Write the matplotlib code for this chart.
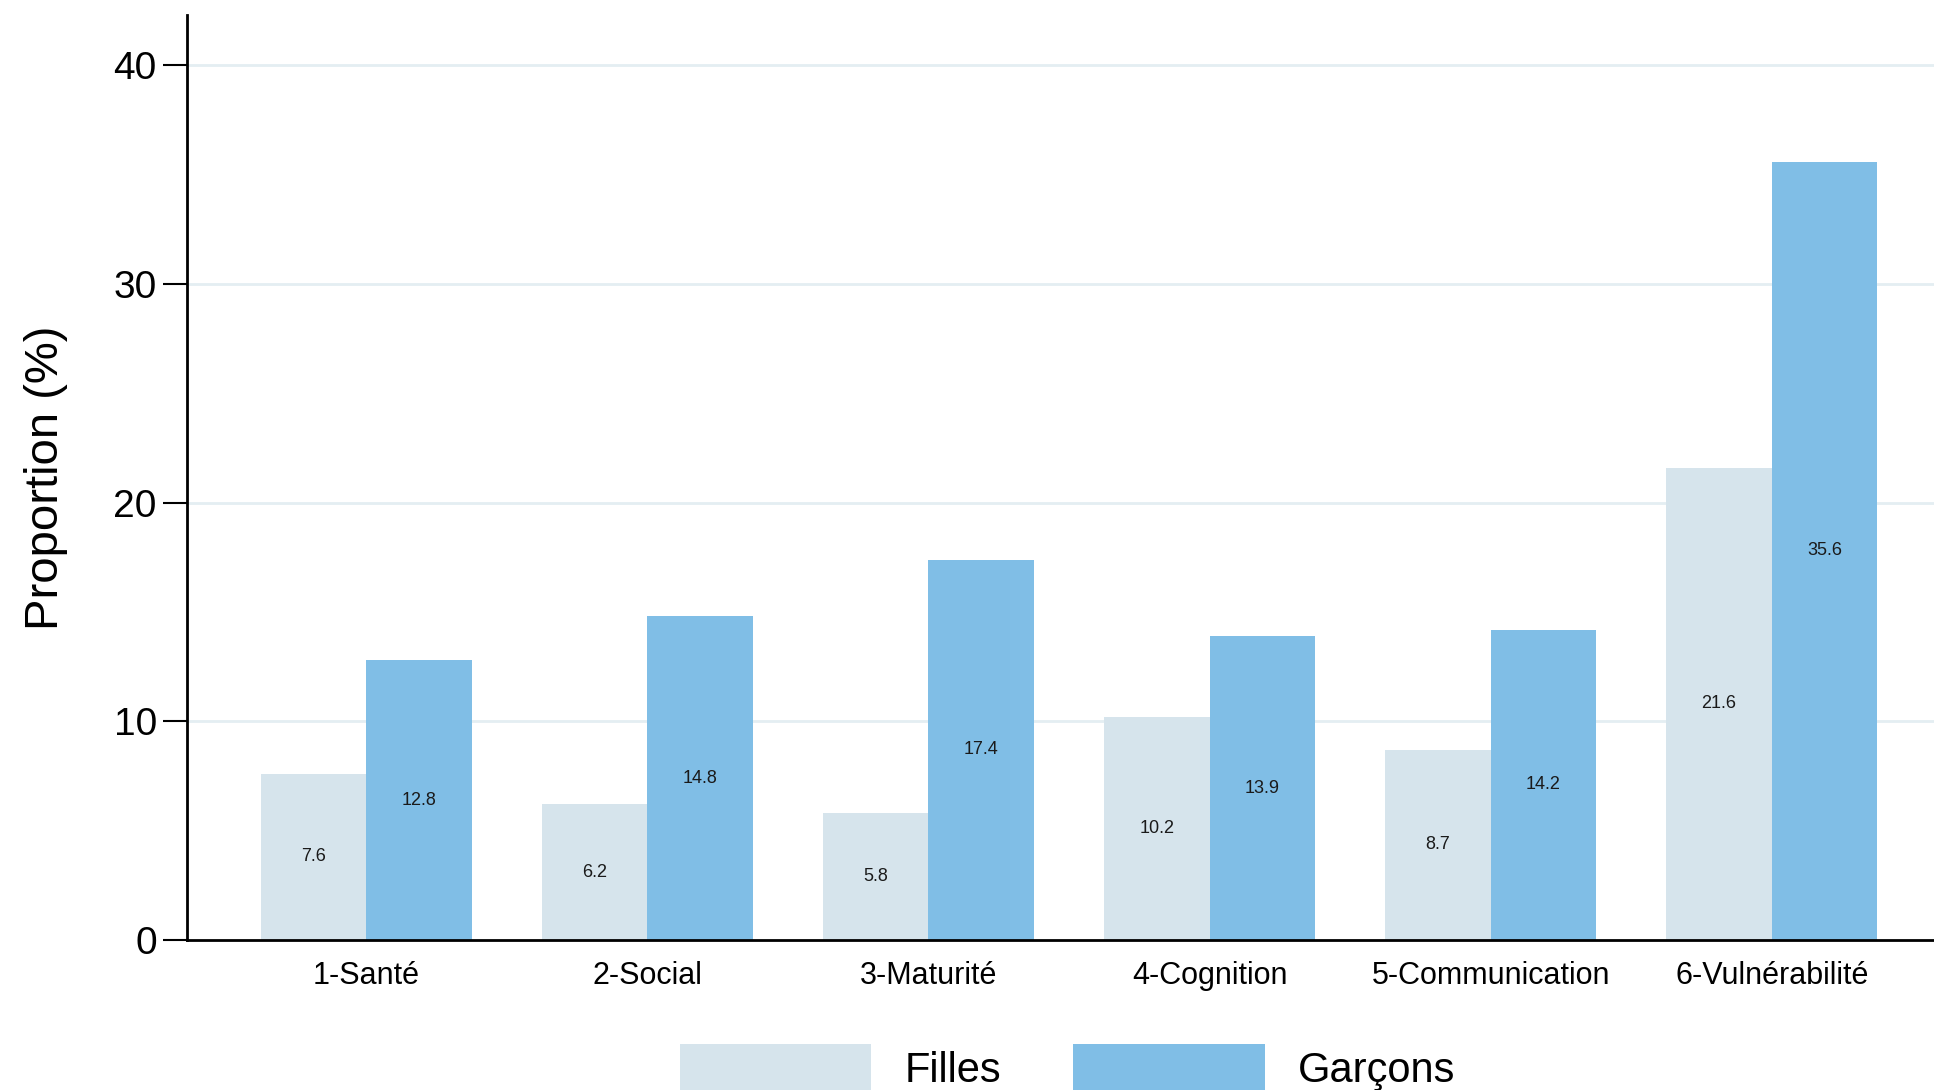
import matplotlib.pyplot as plt
import numpy as np

plt.rcParams['font.family'] = ['Liberation Sans', 'DejaVu Sans']

# données
domaines = ['1-Santé', '2-Social', '3-Maturité', '4-Cognition', '5-Communication', '6-Vulnérabilité']
filles = [7.6, 6.2, 5.8, 10.2, 8.7, 21.6]
garcons = [12.8, 14.8, 17.4, 13.9, 14.2, 35.6]
series = ['Filles', 'Garçons']
colors = ['#d6e4ec', '#80bee6']
yticks = [0, 10, 20, 30, 40]

fig = plt.figure(figsize=(19.34, 10.9), dpi=100)
# l'axe déborde à droite comme dans l'original (recadré)
ax = fig.add_axes([0.0969, 0.1376, 0.9117, 0.8486])

x = np.arange(len(domaines))
w = 0.375
b1 = ax.bar(x - w / 2, filles, w, color=colors[0], label=series[0], zorder=2)
b2 = ax.bar(x + w / 2, garcons, w, color=colors[1], label=series[1], zorder=2)

for bars in (b1, b2):
    for r in bars:
        h = r.get_height()
        ax.text(r.get_x() + r.get_width() / 2, h / 2, f'{h:.1f}',
                ha='center', va='center', fontsize=13, color='#1a1a1a', zorder=3)

ax.set_xlim(-0.636, 5.636)
ax.set_ylim(0, 42.3)
ax.set_yticks(yticks)
ax.set_xticks(x)
ax.set_xticklabels(domaines)

ax.tick_params(axis='y', labelsize=28, length=17, width=1.5, pad=5)
ax.tick_params(axis='x', labelsize=22, length=0, pad=15)

ax.set_ylabel('Proportion (%)', fontsize=34)
ax.yaxis.set_label_coords(-0.068, 0.5)

# grille horizontale
for t in yticks[1:]:
    ax.axhline(t, color='#e4eef2', linewidth=2, zorder=1)

for s in ['top', 'right']:
    ax.spines[s].set_visible(False)
ax.spines['left'].set_linewidth(2)
ax.spines['bottom'].set_linewidth(2)

fig.legend(handles=[b1, b2], labels=series, loc='center', bbox_to_anchor=(0.552, 0.02),
           ncol=2, frameon=False, fontsize=30, handlelength=4.6, handleheight=1.4,
           handletextpad=0.8, columnspacing=1.73, borderpad=0)

plt.savefig('out.png', dpi=100)
